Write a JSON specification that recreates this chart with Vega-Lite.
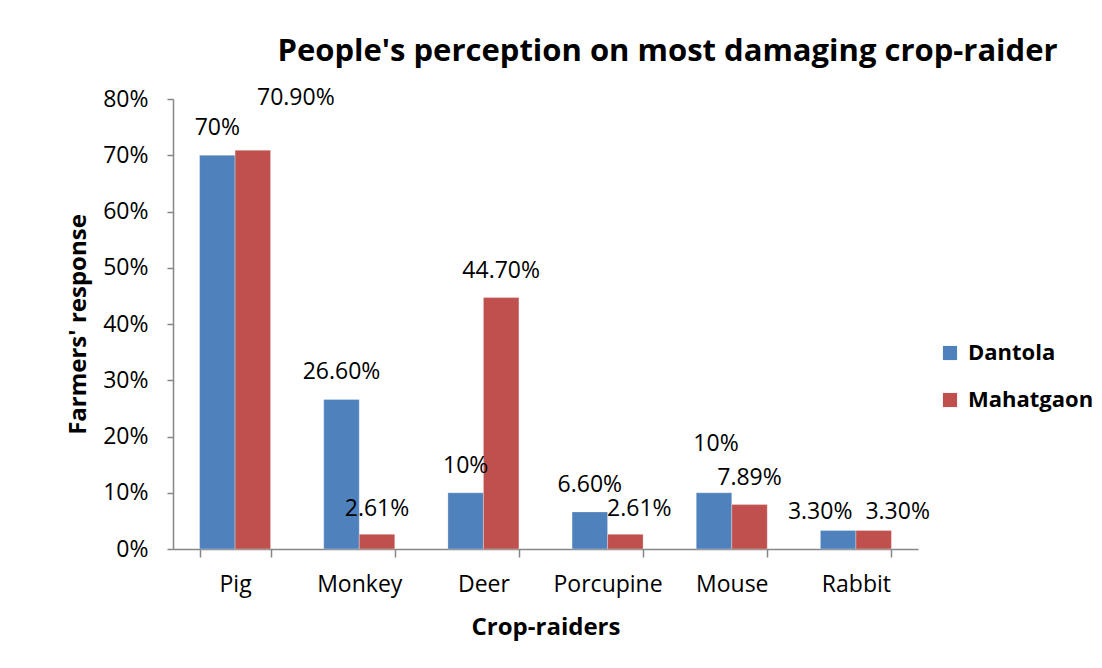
{
  "$schema": "https://vega.github.io/schema/vega-lite/v6.json",
  "width": 745,
  "height": 450,
  "autosize": {"type": "none"},
  "padding": {"left": 173, "top": 99, "right": 184, "bottom": 119},
  "background": "white",
  "title": {
    "text": "People's perception on most damaging crop-raider",
    "anchor": "middle",
    "dx": 122,
    "offset": 19,
    "font": "Open Sans",
    "fontSize": 31,
    "fontWeight": "bold",
    "color": "#000000"
  },
  "data": {
    "values": [
      {"crop": "Pig", "series": "Dantola", "value": 70, "label": "70%"},
      {"crop": "Pig", "series": "Mahatgaon", "value": 70.9, "label": "70.90%"},
      {"crop": "Monkey", "series": "Dantola", "value": 26.6, "label": "26.60%"},
      {"crop": "Monkey", "series": "Mahatgaon", "value": 2.61, "label": "2.61%"},
      {"crop": "Deer", "series": "Dantola", "value": 10, "label": "10%"},
      {"crop": "Deer", "series": "Mahatgaon", "value": 44.7, "label": "44.70%"},
      {"crop": "Porcupine", "series": "Dantola", "value": 6.6, "label": "6.60%"},
      {"crop": "Porcupine", "series": "Mahatgaon", "value": 2.61, "label": "2.61%"},
      {"crop": "Mouse", "series": "Dantola", "value": 10, "label": "10%"},
      {"crop": "Mouse", "series": "Mahatgaon", "value": 7.89, "label": "7.89%"},
      {"crop": "Rabbit", "series": "Dantola", "value": 3.3, "label": "3.30%"},
      {"crop": "Rabbit", "series": "Mahatgaon", "value": 3.3, "label": "3.30%"}
    ]
  },
  "encoding": {
    "x": {
      "field": "crop",
      "type": "nominal",
      "sort": ["Pig", "Monkey", "Deer", "Porcupine", "Mouse", "Rabbit"],
      "scale": {"paddingInner": 0.428, "paddingOuter": 0.214},
      "axis": {
        "title": "Crop-raiders",
        "labelAngle": 0,
        "tickBand": "extent",
        "tickSize": 8,
        "labelPadding": 16,
        "titlePadding": 19,
        "labelFont": "Open Sans",
        "labelFontSize": 23,
        "labelColor": "#000000",
        "titleFont": "Open Sans",
        "titleFontSize": 24,
        "titleFontWeight": "bold",
        "titleColor": "#000000",
        "domainColor": "#868686",
        "tickColor": "#868686",
        "domainWidth": 1.5,
        "tickWidth": 1.5
      }
    },
    "xOffset": {"field": "series", "type": "nominal", "sort": ["Dantola", "Mahatgaon"]},
    "y": {
      "field": "value",
      "type": "quantitative",
      "scale": {"domain": [0, 80]},
      "axis": {
        "title": "Farmers' response",
        "values": [0, 10, 20, 30, 40, 50, 60, 70, 80],
        "labelExpr": "datum.value + '%'",
        "grid": false,
        "tickSize": 6,
        "labelPadding": 19,
        "titlePadding": 12,
        "labelFont": "Open Sans",
        "labelFontSize": 23,
        "labelColor": "#000000",
        "titleFont": "Open Sans",
        "titleFontSize": 24,
        "titleFontWeight": "bold",
        "titleColor": "#000000",
        "domainColor": "#868686",
        "tickColor": "#868686",
        "domainWidth": 1.5,
        "tickWidth": 1.5
      }
    }
  },
  "layer": [
    {
      "mark": {"type": "bar", "stroke": "#ffffff", "strokeWidth": 0.6, "strokeOpacity": 0.5},
      "encoding": {
        "color": {
          "field": "series",
          "type": "nominal",
          "scale": {"domain": ["Dantola", "Mahatgaon"], "range": ["#4F81BD", "#C0504D"]},
          "legend": {
            "title": null,
            "orient": "none",
            "legendX": 766,
            "legendY": 243,
            "symbolType": "square",
            "symbolSize": 200,
            "symbolStrokeWidth": 0,
            "labelFont": "Open Sans",
            "labelFontSize": 22,
            "labelFontWeight": "bold",
            "labelColor": "#000000",
            "labelOffset": 7,
            "rowPadding": 25
          }
        }
      }
    },
    {
      "transform": [{"filter": "!((datum.crop=='Pig' && datum.series=='Mahatgaon') || (datum.series=='Mahatgaon' && (datum.crop=='Monkey' || datum.crop=='Porcupine')) || (datum.crop=='Mouse' && datum.series=='Dantola') || datum.crop=='Rabbit')"}],
      "mark": {"type": "text", "baseline": "middle", "dy": -27, "font": "Open Sans", "fontSize": 23, "color": "#000000"},
      "encoding": {"text": {"field": "label"}}
    },
    {
      "transform": [{"filter": "datum.crop=='Pig' && datum.series=='Mahatgaon'"}],
      "mark": {"type": "text", "baseline": "middle", "dx": 43, "dy": -52, "font": "Open Sans", "fontSize": 23, "color": "#000000"},
      "encoding": {"text": {"field": "label"}}
    },
    {
      "transform": [{"filter": "datum.crop=='Monkey' && datum.series=='Mahatgaon'"}],
      "mark": {"type": "text", "baseline": "middle", "dx": 0, "dy": -25, "font": "Open Sans", "fontSize": 23, "color": "#000000"},
      "encoding": {"text": {"field": "label"}}
    },
    {
      "transform": [{"filter": "datum.crop=='Porcupine' && datum.series=='Mahatgaon'"}],
      "mark": {"type": "text", "baseline": "middle", "dx": 14, "dy": -25, "font": "Open Sans", "fontSize": 23, "color": "#000000"},
      "encoding": {"text": {"field": "label"}}
    },
    {
      "transform": [{"filter": "datum.crop=='Mouse' && datum.series=='Dantola'"}],
      "mark": {"type": "text", "baseline": "middle", "dx": 2, "dy": -49, "font": "Open Sans", "fontSize": 23, "color": "#000000"},
      "encoding": {"text": {"field": "label"}}
    },
    {
      "transform": [{"filter": "datum.crop=='Rabbit' && datum.series=='Dantola'"}],
      "mark": {"type": "text", "baseline": "middle", "dx": -18, "dy": -18, "font": "Open Sans", "fontSize": 23, "color": "#000000"},
      "encoding": {"text": {"field": "label"}}
    },
    {
      "transform": [{"filter": "datum.crop=='Rabbit' && datum.series=='Mahatgaon'"}],
      "mark": {"type": "text", "baseline": "middle", "dx": 24, "dy": -18, "font": "Open Sans", "fontSize": 23, "color": "#000000"},
      "encoding": {"text": {"field": "label"}}
    }
  ],
  "config": {"view": {"stroke": null}}
}
